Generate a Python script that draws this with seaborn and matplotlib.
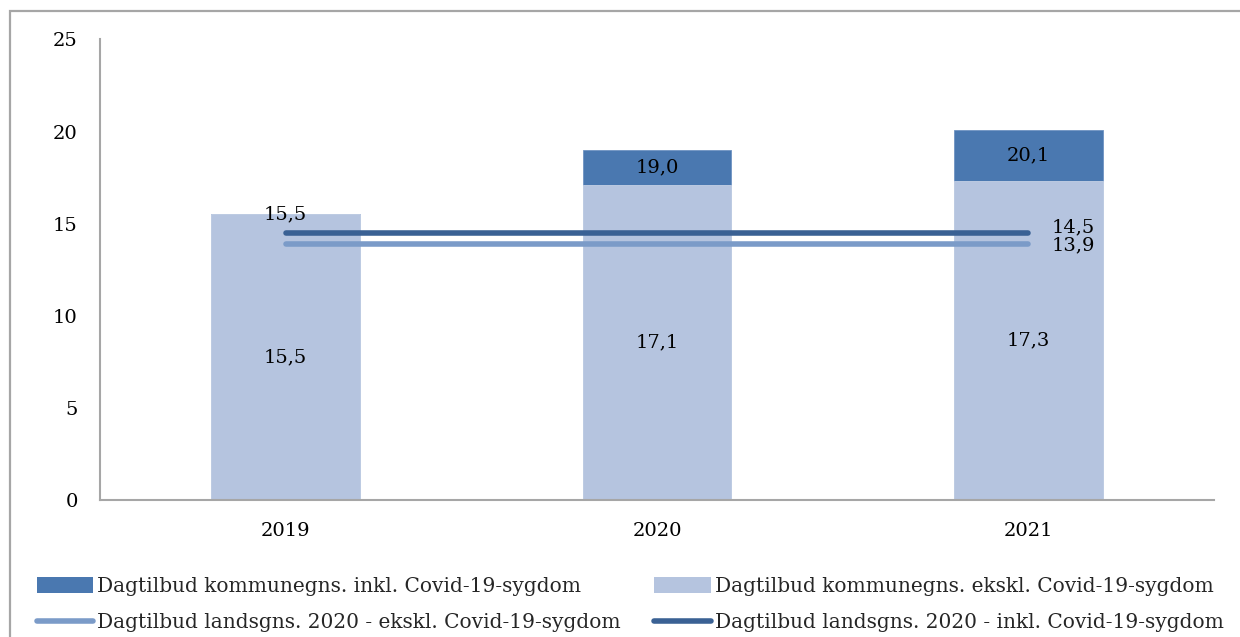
import matplotlib
matplotlib.use("Agg")
import matplotlib.pyplot as plt
import seaborn as sns
import pandas as pd
from matplotlib.patches import Rectangle, Patch
from matplotlib.lines import Line2D

years = ["2019", "2020", "2021"]
excl_values = [15.5, 17.1, 17.3]
incl_values = [15.5, 19.0, 20.1]
national_excl = 13.9
national_incl = 14.5

lbl_incl = "Dagtilbud kommunegns. inkl. Covid-19-sygdom"
lbl_excl = "Dagtilbud kommunegns. ekskl. Covid-19-sygdom"
lbl_nat_excl = "Dagtilbud landsgns. 2020 - ekskl. Covid-19-sygdom"
lbl_nat_incl = "Dagtilbud landsgns. 2020 - inkl. Covid-19-sygdom"

c_dark_bar = "#4A78B0"
c_light_bar = "#B5C4DF"
c_dark_line = "#3A6194"
c_light_line = "#7B9BC8"
grey = "#A6A6A6"

sns.set_theme(style="white")
plt.rcParams["font.family"] = ["DejaVu Serif"]
FS = 14
FS_LEG = 14.5

df = pd.DataFrame({"year": years, "excl": excl_values, "incl": incl_values})

fig = plt.figure(figsize=(12.4, 6.37), dpi=100)
ax = fig.add_axes([100 / 1240, 1 - 500 / 637, (1214 - 100) / 1240, (500 - 39.5) / 637])

sns.barplot(data=df, x="year", y="incl", color=c_dark_bar, saturation=1, width=0.4,
            ax=ax, edgecolor="#6F93C2", linewidth=0.6)
sns.barplot(data=df, x="year", y="excl", color=c_light_bar, saturation=1, width=0.4,
            ax=ax, edgecolor="#C5D1E6", linewidth=0.6)

xs = list(range(len(years)))
line_df = pd.DataFrame({"x": xs, "excl": [national_excl] * len(xs), "incl": [national_incl] * len(xs)})
sns.lineplot(data=line_df, x="x", y="excl", color=c_light_line, lw=4, ax=ax,
             solid_capstyle="round")
sns.lineplot(data=line_df, x="x", y="incl", color=c_dark_line, lw=4, ax=ax,
             solid_capstyle="round")

ax.set_xlim(-0.5, len(years) - 0.5)
ax.set_ylim(0, 25)
ax.set_yticks([0, 5, 10, 15, 20, 25])
ax.set_xlabel("")
ax.set_ylabel("")
ax.tick_params(axis="y", length=0, pad=16, labelsize=FS, labelcolor="black")
ax.tick_params(axis="x", length=0, pad=16, labelsize=FS, labelcolor="black")
for s in ["top", "right"]:
    ax.spines[s].set_visible(False)
for s in ["left", "bottom"]:
    ax.spines[s].set_color(grey)
    ax.spines[s].set_linewidth(1.5)

def fmt(v):
    return f"{v:.1f}".replace(".", ",")

for i, (e, t) in enumerate(zip(excl_values, incl_values)):
    ax.text(i, e / 2, fmt(e), ha="center", va="center", fontsize=FS, color="black")
    ax.text(i, (e + t) / 2, fmt(t), ha="center", va="center", fontsize=FS, color="black")

last = xs[-1]
ax.annotate(fmt(national_incl), (last, national_incl), xytext=(17, 4), textcoords="offset points",
            ha="left", va="center", fontsize=FS, color="black")
ax.annotate(fmt(national_excl), (last, national_excl), xytext=(17, -1), textcoords="offset points",
            ha="left", va="center", fontsize=FS, color="black")

handles = [
    Patch(facecolor=c_dark_bar, edgecolor="none"),
    Line2D([0], [0], color=c_light_line, lw=4, solid_capstyle="round"),
    Patch(facecolor=c_light_bar, edgecolor="none"),
    Line2D([0], [0], color=c_dark_line, lw=4, solid_capstyle="round"),
]
labels = [lbl_incl, lbl_nat_excl, lbl_excl, lbl_nat_incl]
leg = fig.legend(handles, labels, ncol=2, loc="lower left", bbox_to_anchor=(29 / 1240, -3 / 637),
                 frameon=False, fontsize=FS_LEG, handlelength=2.8, handletextpad=0.2,
                 columnspacing=1.65, labelspacing=0.84, borderaxespad=0.0, handleheight=0.8)

fig.patches.append(Rectangle((10 / 1240, -0.2), 1.5, 1 - 11 / 637 + 0.2, transform=fig.transFigure,
                             fill=False, edgecolor=grey, linewidth=1.6, clip_on=False))

fig.savefig("out.png", dpi=100, facecolor="white")
